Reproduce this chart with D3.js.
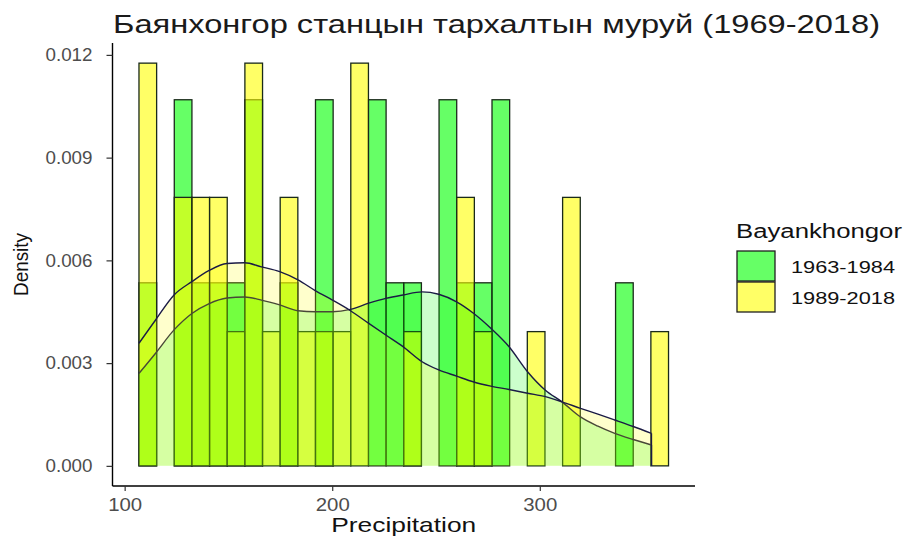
<!DOCTYPE html>
<html>
<head>
<meta charset="utf-8">
<script src="https://cdn.jsdelivr.net/npm/d3@7"></script>
<style>
  html, body { margin: 0; padding: 0; background: #ffffff; }
  svg { display: block; }
</style>
</head>
<body>
<svg id="chart" width="912" height="537"></svg>
<script>
// ---------------- data ----------------
const titleText = "Баянхонгор станцын тархалтын муруй (1969-2018)";
const xTitle = "Precipitation";
const yTitle = "Density";
const legendTitle = "Bayankhongor";
const seriesNames = ["1963-1984", "1989-2018"];

// histogram: 30 bins starting at binStart, width binWidth (precipitation units)
const binStart = 106.9;
const binWidth = 8.504;
const countsA = [1,0,2,1,1,1,2,0,1,0,2,0,0,2,1,1,0,2,1,1,2,0,0,0,0,0,0,1,0,0]; // 1963-1984
const countsB = [3,0,2,2,2,1,3,1,2,1,1,1,3,0,0,1,0,0,2,1,0,0,1,0,2,0,0,0,0,1]; // 1989-2018

// density curves
const curveX = [106.9,114.9,123.8,132.4,140.5,149.3,157.8,165.9,174.7,183.5,192.0,200.1,208.8,217.6,225.8,234.1,243.3,251.3,259.9,268.2,276.4,285.2,294.1,302.7,310.7,319.6,328.0,336.1,345.0,353.8];
const densA = [0.00270,0.00329,0.00397,0.00445,0.00473,0.00490,0.00493,0.00484,0.00470,0.00453,0.00450,0.00450,0.00457,0.00475,0.00489,0.00499,0.00508,0.00501,0.00479,0.00445,0.00402,0.00348,0.00275,0.00221,0.00187,0.00143,0.00116,0.00095,0.00077,0.00061];
const densB = [0.00358,0.00426,0.00499,0.00538,0.00570,0.00591,0.00593,0.00581,0.00567,0.00543,0.00511,0.00484,0.00453,0.00416,0.00382,0.00348,0.00304,0.00280,0.00262,0.00245,0.00233,0.00223,0.00212,0.00202,0.00187,0.00168,0.00151,0.00134,0.00115,0.00095];

const xTicks = [100, 200, 300];
const yTicks = [0, 0.003, 0.006, 0.009, 0.012];

// ---------------- layout / style ----------------
const FONT = "'Liberation Sans', Arial, Helvetica, sans-serif";
const colors = ["#00ff00", "#ffff00"];
const barAlpha = 0.6, densAlpha = 0.2;
const panel = { left: 112.5, right: 695, top: 43, bottom: 486 };

const svg = d3.select("#chart");

function fit(sel, w) {
  sel.attr("textLength", w).attr("lengthAdjust", "spacingAndGlyphs");
}

// build bins
function makeBins(counts) {
  const n = d3.sum(counts);
  return counts.map((c, i) => ({
    x0: binStart + i * binWidth,
    x1: binStart + (i + 1) * binWidth,
    d: c / (n * binWidth)
  }));
}
const binsA = makeBins(countsA);
const binsB = makeBins(countsB);

const xLo = binStart, xHi = binStart + countsA.length * binWidth;
const xPad = (xHi - xLo) * 0.05;
const yMax = d3.max(binsA.concat(binsB), b => b.d);
const yPad = yMax * 0.05;

const x = d3.scaleLinear().domain([xLo - xPad, xHi + xPad]).range([panel.left, panel.right]);
const y = d3.scaleLinear().domain([-yPad, yMax + yPad]).range([panel.bottom, panel.top]);

// bars
[binsA, binsB].forEach((bins, k) => {
  svg.append("g").selectAll("rect").data(bins).join("rect")
    .attr("x", b => x(b.x0))
    .attr("y", b => y(b.d))
    .attr("width", b => x(b.x1) - x(b.x0))
    .attr("height", b => y(0) - y(b.d))
    .attr("fill", colors[k])
    .attr("fill-opacity", barAlpha)
    .attr("stroke", "#1a2a1a")
    .attr("stroke-width", 1.3);
});

// densities
[densA, densB].forEach((dens, k) => {
  const pts = curveX.map((v, i) => [v, dens[i]]);
  const area = d3.area().x(p => x(p[0])).y0(y(0)).y1(p => y(p[1])).curve(d3.curveMonotoneX);
  const line = d3.line().x(p => x(p[0])).y(p => y(p[1])).curve(d3.curveMonotoneX);
  svg.append("path").attr("d", area(pts))
    .attr("fill", colors[k]).attr("fill-opacity", densAlpha).attr("stroke", "none");
  svg.append("path").attr("d", line(pts))
    .attr("fill", "none").attr("stroke", "#1b1b45").attr("stroke-width", 1.4);
  // end verticals
  svg.append("line")
    .attr("x1", x(pts[pts.length-1][0])).attr("x2", x(pts[pts.length-1][0]))
    .attr("y1", y(pts[pts.length-1][1])).attr("y2", y(0))
    .attr("stroke", "#1b1b45").attr("stroke-width", 1.4);
});

// axes
const yAxis = svg.append("g").attr("transform", `translate(${panel.left},0)`)
  .call(d3.axisLeft(y).tickValues(yTicks).tickFormat(d3.format(".3f")).tickSize(6).tickSizeOuter(0).tickPadding(14));
const xAxis = svg.append("g").attr("transform", `translate(0,${panel.bottom})`)
  .call(d3.axisBottom(x).tickValues(xTicks).tickFormat(d3.format("d")).tickSize(5).tickSizeOuter(0).tickPadding(7));

[yAxis, xAxis].forEach(ax => {
  ax.select(".domain").attr("stroke", "#000").attr("stroke-width", 1.4);
  ax.selectAll(".tick line").attr("stroke", "#333").attr("stroke-width", 1.2);
  ax.selectAll(".tick text").attr("fill", "#4d4d4d").style("font-family", FONT).style("font-size", "18px");
});
// extend axis lines to full panel
yAxis.select(".domain").attr("d", `M0,${panel.bottom}V${panel.top}`);
xAxis.select(".domain").attr("d", `M${panel.left},0H${panel.right}`);
yAxis.selectAll(".tick text").call(fit, 47);
xAxis.selectAll(".tick text").call(fit, 34);

// title
svg.append("text").attr("x", 113).attr("y", 33)
  .style("font-family", FONT).style("font-size", "26px").attr("fill", "#1a1a1a")
  .text(titleText).call(fit, 767);

// axis titles
svg.append("text").attr("x", (panel.left + panel.right) / 2).attr("y", 532)
  .attr("text-anchor", "middle").style("font-family", FONT).style("font-size", "21px").attr("fill", "#111")
  .text(xTitle).call(fit, 145);
svg.append("text").attr("transform", `translate(28,${(panel.top + panel.bottom) / 2}) rotate(-90)`)
  .attr("text-anchor", "middle").style("font-family", FONT).style("font-size", "20px").attr("fill", "#111")
  .text(yTitle).call(fit, 63);

// legend
const lg = svg.append("g");
lg.append("text").attr("x", 736).attr("y", 238)
  .style("font-family", FONT).style("font-size", "20px").attr("fill", "#111")
  .text(legendTitle).call(fit, 166);
seriesNames.forEach((name, k) => {
  const top = 251 + k * 31;
  lg.append("rect").attr("x", 737).attr("y", top).attr("width", 38).attr("height", 30)
    .attr("fill", colors[k]).attr("fill-opacity", barAlpha)
    .attr("stroke", "#1f1f1f").attr("stroke-width", 1.3);
  lg.append("text").attr("x", 791).attr("y", top + 22)
    .style("font-family", FONT).style("font-size", "17px").attr("fill", "#111")
    .text(name).call(fit, 104);
});
</script>
</body>
</html>
